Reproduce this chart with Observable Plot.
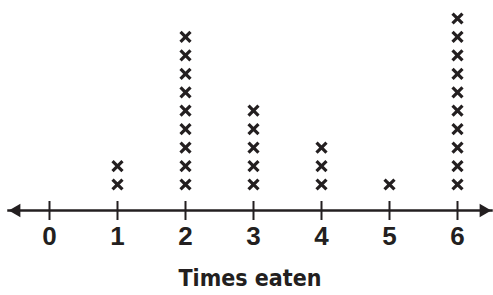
<!DOCTYPE html>
<html>
<head>
<meta charset="utf-8">
<script src="https://cdn.jsdelivr.net/npm/d3@7"></script>
<script src="https://cdn.jsdelivr.net/npm/@observablehq/plot@0.6"></script>
<style>
  html, body { margin: 0; padding: 0; background: #fff; }
</style>
</head>
<body>
<div id="chart"></div>
<script>
// Data
const values = [0, 1, 2, 3, 4, 5, 6];
const counts = [0, 2, 9, 5, 3, 1, 10];
const tickLabels = ["0", "1", "2", "3", "4", "5", "6"];
const axisTitle = "Times eaten";

// One X per observation, stacked upward
const points = values.flatMap((v, i) =>
  d3.range(1, counts[i] + 1).map(k => ({value: v, k}))
);

// vertical bar symbol for the number-line ticks
const vbar = {
  draw(context, size) {
    const h = Math.sqrt(size / Math.PI);
    context.moveTo(0, -h);
    context.lineTo(0, h);
  }
};

const ink = "#231f20";

const chart = Plot.plot({
  width: 493,
  height: 295,
  marginLeft: 8,
  marginRight: 2,
  marginTop: 0,
  marginBottom: 85,
  x: {domain: [0, 6], range: [49, 457], axis: null},
  y: {domain: [1, 10], range: [184, 18], axis: null},
  marks: [
    Plot.frame({anchor: "bottom", stroke: ink, strokeWidth: 2.5}),
    Plot.dot([0], {frameAnchor: "bottom-left", symbol: "triangle", rotate: -90, r: 5, fill: ink, stroke: "none", dx: 8}),
    Plot.dot([0], {frameAnchor: "bottom-right", symbol: "triangle", rotate: 90, r: 5, fill: ink, stroke: "none", dx: -8}),
    Plot.dot(values, {x: d => d, frameAnchor: "bottom", symbol: vbar, r: 9.5, fill: "none", stroke: ink, strokeWidth: 2}),
    Plot.text(values, {x: d => d, text: (d, i) => tickLabels[i], frameAnchor: "bottom", dy: 34,
      fontSize: 26, fontWeight: "bold", fontFamily: "Liberation Sans, Arial, sans-serif", fill: ink}),
    Plot.text([axisTitle], {frameAnchor: "bottom", dy: 75, fontSize: 23, fontWeight: "bold",
      fontFamily: "DejaVu Sans Condensed, DejaVu Sans, sans-serif", fill: ink}),
    Plot.dot(points, {x: "value", y: "k", symbol: "times", r: 4.6, stroke: ink, strokeWidth: 3.2})
  ]
});

document.getElementById("chart").appendChild(chart);
</script>
</body>
</html>
